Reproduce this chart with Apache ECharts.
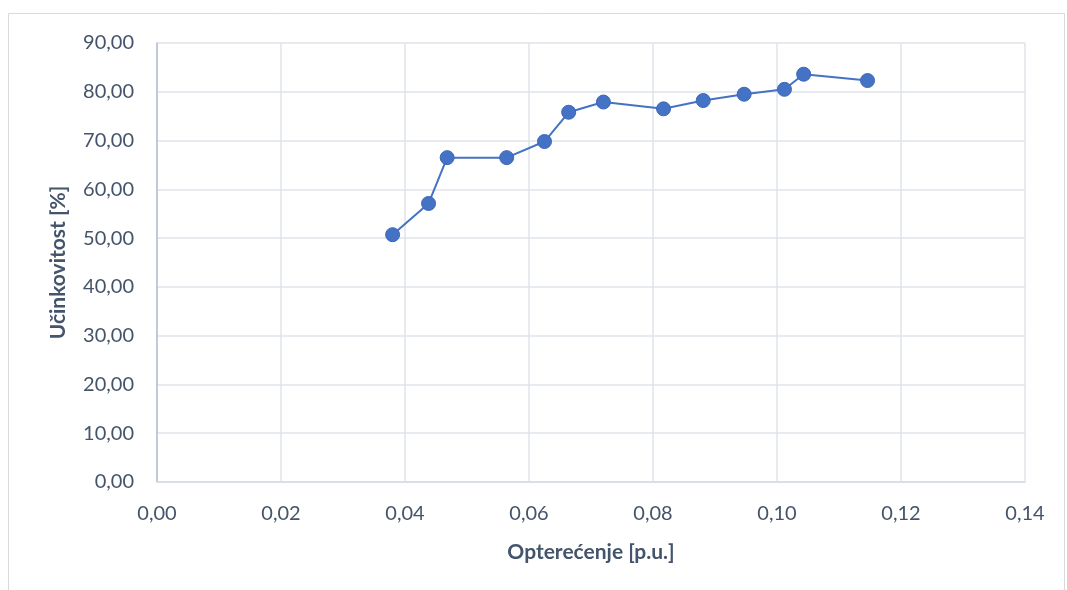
<!DOCTYPE html>
<html><head><meta charset="utf-8">
<script src="https://cdn.jsdelivr.net/npm/echarts@6/dist/echarts.min.js"></script>
<style>html,body{margin:0;padding:0;background:#fff}#c{width:1067px;height:590px}</style>
</head><body><div id="c"></div>
<script>
const loadValues = [0.0380, 0.0438, 0.0468, 0.0564, 0.0625, 0.0664, 0.0720, 0.0817, 0.0881, 0.0947, 0.1012, 0.1043, 0.1146];
const efficiencyValues = [50.7, 57.1, 66.5, 66.5, 69.8, 75.8, 77.9, 76.5, 78.2, 79.5, 80.5, 83.6, 82.3];
const xTitle = 'Opterećenje [p.u.]';
const yTitle = 'Učinkovitost [%]';

const fmt = v => v.toFixed(2).replace('.', ',');
const txt = '#44546a';
const chart = echarts.init(document.getElementById('c'), null, {renderer: 'canvas'});
chart.setOption({
  animation: false,
  backgroundColor: '#fff',
  graphic: [{type: 'rect', shape: {x: 8.5, y: 13.5, width: 1056, height: 600}, style: {fill: 'none', stroke: '#d9d9d9', lineWidth: 1}}],
  grid: {left: 157, right: 42, top: 43, bottom: 108},
  xAxis: {
    type: 'value', min: 0, max: 0.14, interval: 0.02,
    name: xTitle, nameLocation: 'middle', nameGap: 60,
    nameTextStyle: {fontFamily: 'Lato', fontSize: 21, fontWeight: 'bold', color: txt},
    axisLine: {show: true, lineStyle: {color: '#d6dbe3', width: 1.5}},
    axisTick: {show: false},
    axisLabel: {formatter: fmt, fontFamily: 'Lato', fontSize: 20, color: txt, margin: 22},
    splitLine: {show: true, lineStyle: {color: '#dfe3ea', width: 1.5}}
  },
  yAxis: {
    type: 'value', min: 0, max: 90, interval: 10,
    name: yTitle, nameLocation: 'middle', nameGap: 88,
    nameTextStyle: {fontFamily: 'Lato', fontSize: 21, fontWeight: 'bold', color: txt},
    axisLine: {show: true, lineStyle: {color: '#b4bfd0', width: 1.5}},
    axisTick: {show: false},
    axisLabel: {formatter: fmt, fontFamily: 'Lato', fontSize: 20, color: txt, margin: 23},
    splitLine: {show: true, lineStyle: {color: '#dfe3ea', width: 1.5}}
  },
  series: [{
    type: 'line',
    data: loadValues.map((x, i) => [x, efficiencyValues[i]]),
    symbol: 'circle', symbolSize: 14,
    lineStyle: {color: '#4472c4', width: 2},
    itemStyle: {color: '#4472c4', borderColor: '#3d68b8', borderWidth: 1}
  }]
});
</script></body></html>
